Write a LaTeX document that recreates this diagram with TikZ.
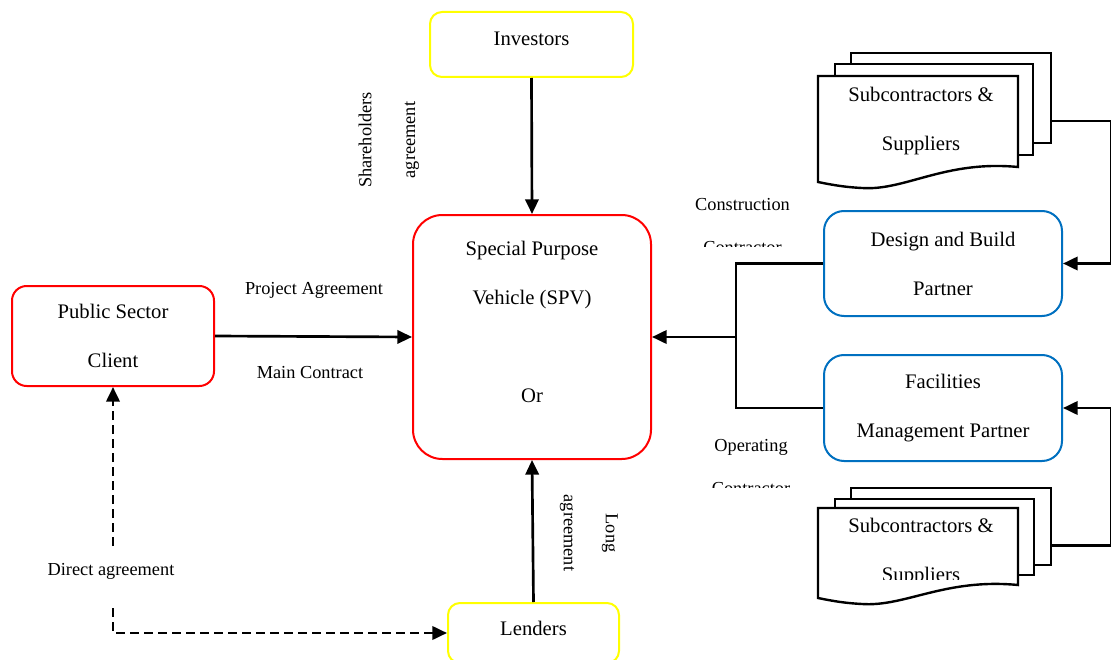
\documentclass[tikz,border=0pt]{standalone}
\usepackage{fontspec}
\setmainfont{Liberation Serif}
\usetikzlibrary{arrows.meta,calc}
\definecolor{boxred}{RGB}{255,0,0}
\definecolor{boxblue}{RGB}{0,112,192}
\definecolor{boxyellow}{RGB}{255,255,0}
\newcommand{\boxfnt}{\fontsize{15.5}{36.75}\selectfont}
\newcommand{\lblfnt}{\fontsize{13.75}{16}\selectfont}
\begin{document}
\begin{tikzpicture}[x=0.75pt,y=-0.75pt,
  box/.style={draw, line width=1.5pt, fill=white, align=center, font=\boxfnt, inner sep=0pt},
  boxtxt/.style={font=\boxfnt, align=center, inner sep=0pt},
  lbl/.style={font=\lblfnt, inner sep=0pt},
  doc/.style={draw, line width=1.8pt, fill=white, inner sep=0pt},
  plain/.style={draw, line width=2pt},
  conn/.style={draw, line width=2pt, -{Triangle[length=11pt,width=10pt]}},
  dconn/.style={draw, line width=2pt, dash pattern=on 6.5pt off 4pt, -{Triangle[length=11pt,width=10pt]}}
]
\useasboundingbox (0,0) rectangle (1111,660);
\clip (0,0) rectangle (1111,660);

% main boxes
\node[box, draw=boxyellow, rounded corners=9pt, minimum width=152.25pt, minimum height=48.75pt,
  label={[boxtxt, yshift=4.1pt]center:Investors}] (inv) at (531.5,44.5) {};
\node[box, draw=boxred, rounded corners=22pt, minimum width=178.5pt, minimum height=183pt,
  label={[boxtxt, yshift=11.6pt]center:{Special Purpose\\Vehicle (SPV)\\\mbox{}\\Or}}] (spv) at (532,337) {};
\node[box, draw=boxred, rounded corners=11pt, minimum width=151.5pt, minimum height=75pt] (client) at (113,336) {Public Sector\\Client};
\node[box, draw=boxyellow, rounded corners=9pt, minimum width=128.25pt, minimum height=45pt,
  label={[boxtxt, yshift=3.75pt]center:Lenders}] (lend) at (533.5,633) {};
\node[box, draw=boxblue, rounded corners=15pt, minimum width=178.5pt, minimum height=78.75pt] (db) at (943,263.5) {Design and Build\\Partner};
\node[box, draw=boxblue, rounded corners=15pt, minimum width=178.5pt, minimum height=79.5pt] (fm) at (943,408) {Facilities\\Management Partner};

% top subcontractors stack
\node[doc, minimum width=150pt, minimum height=67.5pt] (subA3) at (951,98) {};
\node[doc, minimum width=148.5pt, minimum height=68.25pt] (subA2) at (934,109.5) {};
\draw[doc] (818,76) -- (1018,76) -- (1018,167) .. controls (945,160) and (905,191) .. (862,188) .. controls (842,187) and (828,184) .. (818,182) -- cycle;
\node[boxtxt] (subA1) at (921,121.5) {Subcontractors \&\\Suppliers};

% bottom subcontractors stack
\node[doc, minimum width=150pt, minimum height=57.75pt] (subB3) at (951,526.5) {};
\node[doc, minimum width=149.25pt, minimum height=57pt] (subB2) at (934.5,537) {};
\draw[doc] (818,508) -- (1018,508) -- (1018,585) .. controls (945,578) and (905,607) .. (862,604) .. controls (842,603) and (828,600) .. (818,598) -- cycle;
\begin{scope}
\clip (818,508) rectangle (1018,579);
\node[boxtxt] (subB1) at (921,552.5) {Subcontractors \&\\Suppliers};
\end{scope}

% labels
\node[lbl] (lpa) at (314,290) {Project Agreement};
\node[lbl] (lmc) at (310,373) {Main Contract};
\node[lbl] (lda) at (111,571) {Direct agreement};
\node[lbl, rotate=90] (lsh) at (365,140) {Shareholders};
\node[lbl, rotate=90] (lag1) at (412,140) {agreement};
\node[lbl, rotate=-90] (llong) at (610,533) {Long};
\node[lbl, rotate=-90] (lag2) at (567,533) {agreement};
\node[lbl] (lcon) at (742.5,205) {Construction};
\begin{scope}
\clip (680,230) rectangle (810,246.5);
\node[lbl] (lcc) at (742.5,247.5) {Contractor};
\end{scope}
\node[lbl] (lop) at (751,447) {Operating};
\begin{scope}
\clip (680,470) rectangle (810,487.3);
\node[lbl] (loc) at (751,489) {Contractor};
\end{scope}

% connectors
\draw[conn] (inv.south) -- (spv.north);
\draw[conn] (client.east) -- (spv.west);
\draw[conn] (lend.north) -- (spv.south);
\draw[plain] (db.west) -- ++(-87,0) coordinate (jt) |- (fm.west);
\draw[conn] (jt |- spv.east) -- (spv.east);
\draw[conn] ($(subA3.north east)!0.75!(subA3.south east)$) -- ++(59,0) |- (db.east);
\draw[conn] ($(subB3.north east)!0.74!(subB3.south east)$) -- ++(59,0) |- (fm.east);
\coordinate (dA) at (113,546);
\coordinate (dB) at (113,608);
\draw[dconn] (dA) -- (client.south);
\draw[dconn] (dB) |- (lend.west);
\end{tikzpicture}
\end{document}
